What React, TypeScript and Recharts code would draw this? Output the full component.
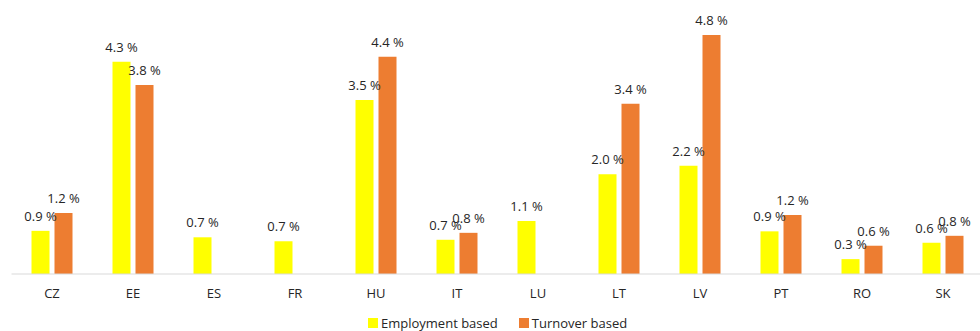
import React from "react";
import { BarChart, Bar, XAxis, YAxis, LabelList } from "recharts";

const categories = ["CZ", "EE", "ES", "FR", "HU", "IT", "LU", "LT", "LV", "PT", "RO", "SK"];
const employmentBased = [0.87, 4.28, 0.74, 0.66, 3.51, 0.69, 1.07, 2.01, 2.18, 0.86, 0.3, 0.63];
const turnoverBased: (number | null)[] = [1.23, 3.81, null, null, 4.38, 0.83, null, 3.43, 4.82, 1.19, 0.57, 0.77];
const seriesNames = ["Employment based", "Turnover based"];
const seriesColors = ["#FFFF00", "#ED7D31"];

const data = categories.map((c, i) => ({
  name: c,
  employment: employmentBased[i],
  turnover: turnoverBased[i],
}));

const FONT = "'Open Sans', sans-serif";
const TEXT = "#262626";

const fmt = (v: any) => (v == null ? "" : `${Number(v).toFixed(1)} %`);

const renderLabel = (props: any) => {
  const { x, y, width, value } = props;
  if (value == null) return null;
  return (
    <text
      x={Number(x) + Number(width) / 2}
      y={Number(y) - 10}
      textAnchor="middle"
      fontSize={13}
      fill={TEXT}
      fontFamily={FONT}
    >
      {fmt(value)}
    </text>
  );
};

export default function App() {
  return (
    <div style={{ position: "absolute", left: 0, top: 0, width: 980, height: 331, overflow: "hidden", background: "#fff", fontFamily: FONT }}>
      <BarChart
        width={996}
        height={331}
        data={data}
        margin={{ top: 26, right: 12.5, left: 11.5, bottom: 27 }}
        barGap={5}
        barSize={18}
      >
        <XAxis
          dataKey="name"
          tickLine={false}
          axisLine={{ stroke: "#D9D9D9", strokeWidth: 1 }}
          tick={{ fontSize: 13, fill: TEXT, fontFamily: FONT }}
          tickMargin={9}
          height={30}
          interval={0}
        />
        <YAxis hide domain={[0, 5]} />
        <Bar dataKey="employment" fill={seriesColors[0]} isAnimationActive={false}>
          <LabelList dataKey="employment" content={renderLabel} />
        </Bar>
        <Bar dataKey="turnover" fill={seriesColors[1]} isAnimationActive={false}>
          <LabelList dataKey="turnover" content={renderLabel} />
        </Bar>
      </BarChart>
      <div style={{ position: "absolute", top: 314, left: 368, display: "flex", alignItems: "center", fontSize: 13, color: TEXT, lineHeight: "18px" }}>
        {seriesNames.map((n, i) => (
          <div key={n} style={{ display: "flex", alignItems: "center", marginRight: i === 0 ? 21 : 0 }}>
            <span style={{ display: "inline-block", width: 10, height: 10, background: seriesColors[i], marginRight: 3 }} />
            <span>{n}</span>
          </div>
        ))}
      </div>
    </div>
  );
}
